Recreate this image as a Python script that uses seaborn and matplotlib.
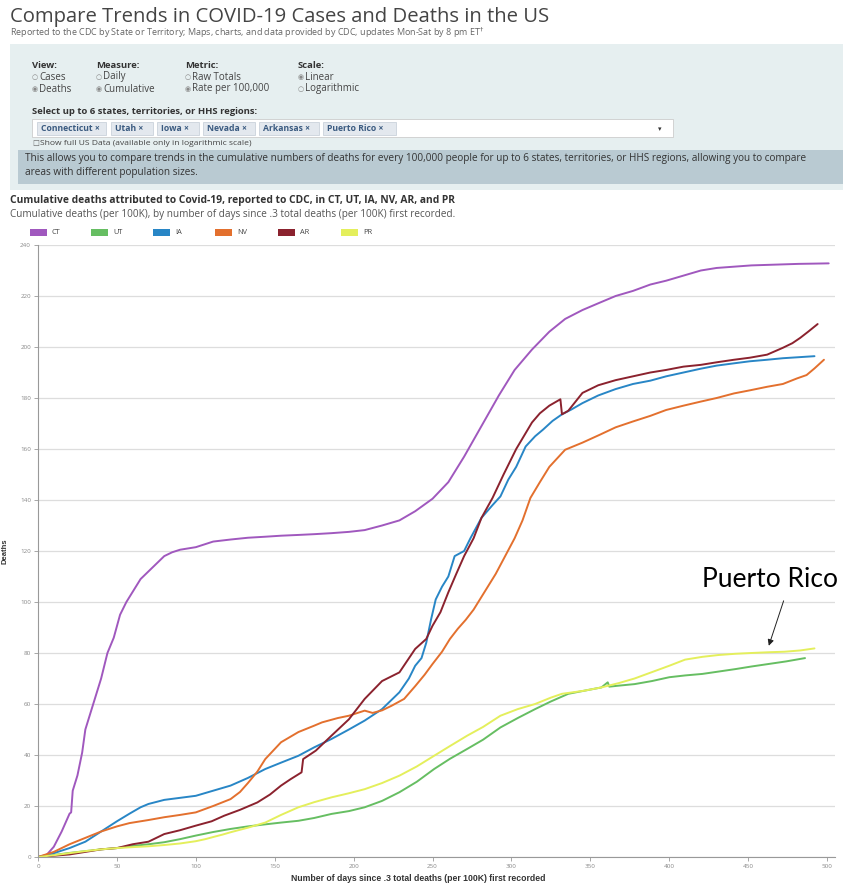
import numpy as np
import pandas as pd
import matplotlib
matplotlib.use("Agg")
import matplotlib.pyplot as plt
import seaborn as sns
from matplotlib.patches import Rectangle, FancyBboxPatch

# values (day since .3 deaths/100K, cumulative deaths per 100K)
ct_days = [0, 5, 10, 15, 20, 21, 22, 25, 28, 30, 35, 40, 44, 48, 52, 56, 60, 65, 70, 75, 80, 85, 90, 100,
           111, 122, 133, 144, 154, 165, 175, 186, 197, 207, 218, 229, 239, 250, 260, 270, 281, 292, 302,
           313, 324, 334, 345, 356, 366, 377, 388, 398, 409, 420, 430, 441, 452, 462, 472, 482, 492, 501]
ct_vals = [0, 0.5, 4, 10, 17, 17.5, 26, 32, 41, 50, 60, 70, 80, 86, 95, 100, 104, 109, 112, 115, 118, 119.5,
           120.5, 121.5, 123.7, 124.5, 125.2, 125.6, 126, 126.3, 126.6, 127, 127.5, 128.2, 130, 132, 135.6,
           140.5, 147, 157, 169, 181, 191, 199, 206, 211, 214.5, 217.4, 220, 222, 224.5, 226, 228, 230, 231,
           231.5, 232, 232.2, 232.4, 232.6, 232.7, 232.8]

ut_days = [0, 10, 20, 30, 40, 50, 58, 70, 80, 90, 100, 111, 122, 133, 144, 154, 165, 175, 186, 197, 207, 218,
           229, 240, 251, 261, 272, 282, 293, 304, 315, 325, 336, 346, 357, 361, 362, 368, 378, 389, 400, 410,
           421, 431, 442, 452, 463, 474, 486]
ut_vals = [0, 0.8, 1.6, 2.3, 3, 3.5, 4.2, 5, 5.8, 7, 8.4, 9.8, 11, 12, 12.8, 13.5, 14.2, 15.3, 16.9, 18, 19.5,
           22, 25.4, 29.5, 34.5, 38.5, 42.4, 46, 50.8, 54.5, 58, 61, 64, 65.2, 66.5, 68.5, 66.8, 67.2, 67.8,
           69, 70.5, 71.2, 71.8, 72.7, 73.7, 74.7, 75.7, 76.7, 78]

ia_days = [0, 10, 20, 30, 40, 50, 58, 65, 70, 80, 90, 100, 111, 122, 133, 144, 154, 165, 175, 186, 197, 207,
           218, 229, 235, 239, 243, 246, 249, 252, 256, 260, 264, 270, 274, 281, 288, 293, 298, 303, 309, 315,
           320, 326, 332, 338, 345, 355, 366, 377, 388, 398, 409, 420, 430, 441, 451, 462, 472, 482, 492]
ia_vals = [0, 1.5, 3.5, 6, 10, 14, 17, 19.5, 20.8, 22.4, 23.2, 24, 26, 28, 31, 34.5, 37, 39.7, 43, 46.3, 50,
           53.5, 58, 64.6, 70, 75, 78, 84, 93, 101, 106, 110, 118, 120, 125, 133, 138, 141.4, 148, 153, 161,
           165, 167.6, 171, 173.6, 175.5, 178, 181, 183.5, 185.5, 186.8, 188.5, 190, 191.5, 192.7, 193.6,
           194.4, 195, 195.6, 196, 196.4]

nv_days = [0, 10, 20, 30, 40, 50, 58, 70, 80, 90, 100, 111, 122, 128, 133, 139, 144, 154, 165, 175, 180, 190,
           197, 207, 212, 218, 224, 232, 239, 245, 250, 256, 261, 266, 271, 276, 280, 285, 290, 296, 302, 307,
           312, 318, 324, 334, 345, 356, 366, 377, 388, 398, 409, 420, 430, 441, 451, 462, 472, 481, 487, 492,
           498]
nv_vals = [0, 2, 5, 7.5, 10, 12, 13.3, 14.5, 15.6, 16.5, 17.5, 20, 22.7, 25.5, 29, 33.5, 38.4, 45, 49, 51.5,
           52.8, 54.5, 55.4, 57.4, 56.5, 57.5, 59.3, 62, 67, 71.5, 75.7, 80.5, 85.5, 89.5, 93, 97, 101, 106,
           111, 118, 125, 132, 140.8, 147, 153, 159.7, 162.5, 165.6, 168.5, 170.8, 173, 175.3, 177, 178.6,
           180, 181.8, 183, 184.4, 185.5, 187.7, 189, 191.6, 195]

ar_days = [0, 10, 20, 30, 40, 50, 60, 70, 80, 90, 100, 110, 118, 128, 139, 147, 154, 160, 167, 168, 176, 186,
           197, 207, 218, 229, 239, 246, 250, 255, 260, 265, 270, 276, 281, 288, 295, 303, 313, 318, 324, 331,
           332, 336, 345, 355, 366, 377, 388, 398, 409, 420, 430, 441, 451, 462, 472, 478, 483, 488, 494]
ar_vals = [0, 0.5, 1, 2, 3, 3.5, 5, 6, 9, 10.5, 12.3, 14, 16.2, 18.5, 21.4, 24.5, 28, 30.5, 33.2, 38.4, 41.7,
           47.6, 54, 62, 69, 72.4, 81.6, 85.5, 90.7, 96, 103.8, 111, 118, 125, 133, 140.8, 150, 160, 170.4,
           174, 177, 179.5, 173.6, 175, 182, 185, 187, 188.5, 190, 191, 192.3, 193, 194, 195, 195.8, 197,
           199.7, 201.5, 203.6, 206, 209]

pr_days = [0, 10, 20, 30, 40, 50, 58, 70, 80, 90, 100, 106, 112, 117, 122, 133, 144, 154, 165, 175, 186, 197,
           207, 218, 229, 240, 251, 261, 272, 282, 293, 304, 315, 325, 332, 346, 357, 368, 378, 389, 400, 410,
           421, 431, 442, 452, 463, 473, 483, 492]
pr_vals = [0, 0.7, 1.5, 2.3, 3, 3.5, 3.8, 4.2, 4.7, 5.3, 6.2, 7, 8, 8.8, 9.7, 11.5, 13.5, 16.5, 19.5, 21.5,
           23.4, 25, 26.6, 29, 31.9, 35.5, 39.7, 43.5, 47.6, 51, 55.4, 58, 60, 62.5, 64, 65.2, 66.5, 68.2, 70,
           72.5, 75, 77.4, 78.5, 79.2, 79.7, 80, 80.3, 80.5, 81, 81.8]

states = ["CT", "UT", "IA", "NV", "AR", "PR"]
colors = ["#a058be", "#66be62", "#2886c6", "#e3702e", "#8b222e", "#e4ef5c"]
chips = ["Connecticut", "Utah", "Iowa", "Nevada", "Arkansas", "Puerto Rico"]

series = {"CT": (ct_days, ct_vals), "UT": (ut_days, ut_vals), "IA": (ia_days, ia_vals),
          "NV": (nv_days, nv_vals), "AR": (ar_days, ar_vals), "PR": (pr_days, pr_vals)}
rows = []
for st in states:
    d, v = series[st]
    for a, b in zip(d, v):
        rows.append({"day": a, "deaths": b, "state": st})
df = pd.DataFrame(rows)

sns.set_style("white")
plt.rcParams["font.family"] = ["Open Sans", "DejaVu Sans"]

W, H = 843, 886
fig = plt.figure(figsize=(W / 100, H / 100), dpi=100)


def fx(px):
    return px / W


def fy(py):
    return 1 - py / H


# header
fig.text(fx(10), fy(17), "Compare Trends in COVID-19 Cases and Deaths in the US", fontsize=14.6,
         color="#444444", va="center")
fig.text(fx(10), fy(33), "Reported to the CDC by State or Territory; Maps, charts, and data provided by CDC, "
         "updates Mon-Sat by 8 pm ET$^{\u2020}$", fontsize=6.5, color="#666666", va="center")

# control panel
fig.patches.append(Rectangle((fx(10), fy(190)), fx(833), 146 / H, transform=fig.transFigure,
                             facecolor="#e6eff0", edgecolor="none"))
cols = [(32, "View:", ["Cases", "Deaths"], 1), (96, "Measure:", ["Daily", "Cumulative"], 1),
        (185, "Metric:", ["Raw Totals", "Rate per 100,000"], 1), (298, "Scale:", ["Linear", "Logarithmic"], 0)]
for x0, head, opts, sel in cols:
    fig.text(fx(x0), fy(65), head, fontsize=6.8, fontweight="bold", color="#333333", va="center")
    for i, o in enumerate(opts):
        yy = 77 + i * 12
        mark = "\u25c9" if i == sel else "\u25cb"
        fig.text(fx(x0), fy(yy), mark, fontsize=5, color="#888888", va="center", family="DejaVu Sans")
        fig.text(fx(x0 + 7), fy(yy), o, fontsize=7, color="#444444", va="center")

fig.text(fx(32), fy(112), "Select up to 6 states, territories, or HHS regions:", fontsize=6.8,
         fontweight="bold", color="#333333", va="center")
fig.patches.append(Rectangle((fx(32), fy(137)), fx(673 - 32), 18 / H, transform=fig.transFigure,
                             facecolor="white", edgecolor="#cccccc", lw=0.6))
chip_x = [37, 111, 157, 203, 259, 323]
chip_w = [69, 42, 42, 52, 60, 73]
for cx, cw, name in zip(chip_x, chip_w, chips):
    fig.patches.append(FancyBboxPatch((fx(cx), fy(135)), fx(cw), 13 / H, boxstyle="square,pad=0",
                                      transform=fig.transFigure, facecolor="#e3e8ee",
                                      edgecolor="#c3ccd6", lw=0.5))
    fig.text(fx(cx + 4), fy(128.5), name + " \u00d7", fontsize=6.2, fontweight="bold", color="#3a5a80",
             va="center")
fig.text(fx(658), fy(129), "\u25be", fontsize=5, color="#333333", va="center", family="DejaVu Sans")
fig.text(fx(32), fy(143.5), "\u2610", fontsize=5.5, color="#666666", va="center", family="DejaVu Sans")
fig.text(fx(40), fy(143.5), "Show full US Data (available only in logarithmic scale)", fontsize=6.1,
         color="#444444", va="center")

fig.patches.append(Rectangle((fx(18), fy(184)), fx(843 - 18), 34 / H, transform=fig.transFigure,
                             facecolor="#b9cad2", edgecolor="none"))
fig.text(fx(25), fy(159), "This allows you to compare trends in the cumulative numbers of deaths for every "
         "100,000 people for up to 6 states, territories, or HHS regions, allowing you to compare",
         fontsize=7.2, color="#333333", va="center")
fig.text(fx(25), fy(172), "areas with different population sizes.", fontsize=7.2, color="#333333", va="center")

# chart title
fig.text(fx(10), fy(200), "Cumulative deaths attributed to Covid-19, reported to CDC, in CT, UT, IA, NV, AR, and PR",
         fontsize=7.4, fontweight="bold", color="#333333", va="center")
fig.text(fx(10), fy(214), "Cumulative deaths (per 100K), by number of days since .3 total deaths (per 100K) "
         "first recorded.", fontsize=7.2, color="#555555", va="center")

# legend squares
leg_x = [30, 91, 153, 215, 278, 341]
for lx, st, c in zip(leg_x, states, colors):
    fig.patches.append(Rectangle((fx(lx), fy(236)), fx(17), 7 / H, transform=fig.transFigure,
                                 facecolor=c, edgecolor="none"))
    fig.text(fx(lx + 22), fy(232.5), st, fontsize=5.3, color="#444444", va="center")

# plot
ax = fig.add_axes([fx(38), fy(857), fx(835 - 38), (857 - 245) / H])
sns.lineplot(data=df, x="day", y="deaths", hue="state", palette=dict(zip(states, colors)),
             estimator=None, sort=False, legend=False, lw=1.4, ax=ax)
ax.set_xlim(0, 505)
ax.set_ylim(0, 240)
ax.set_xticks(np.arange(0, 501, 50))
ax.set_yticks(np.arange(0, 241, 20))
ax.grid(axis="y", color="#dddddd", lw=0.9)
ax.grid(axis="x", visible=False)
for s in ["top", "right"]:
    ax.spines[s].set_visible(False)
for s in ["left", "bottom"]:
    ax.spines[s].set_color("#999999")
    ax.spines[s].set_linewidth(0.8)
ax.tick_params(axis="both", labelsize=4.5, labelcolor="#888888", color="#999999", length=3, width=0.6,
               left=True, bottom=True, pad=2)
ax.set_xlabel("Number of days since .3 total deaths (per 100K) first recorded", fontsize=6.2,
              fontweight="bold", color="#333333", family="Liberation Sans", labelpad=6)
ax.xaxis.set_label_coords(0.477, -0.027)
ax.set_ylabel("Deaths", fontsize=5.5, fontweight="bold", color="#333333", family="Liberation Sans",
              labelpad=8)

ax.text(464, 109, "Puerto Rico", fontsize=19, family="Lato", color="black", ha="center", va="center")
ax.annotate("", xy=(462.5, 81.8), xytext=(473, 101.5),
            arrowprops=dict(arrowstyle="-|>", color="#222222", lw=0.7, mutation_scale=9))

fig.savefig("out.png", dpi=100)
